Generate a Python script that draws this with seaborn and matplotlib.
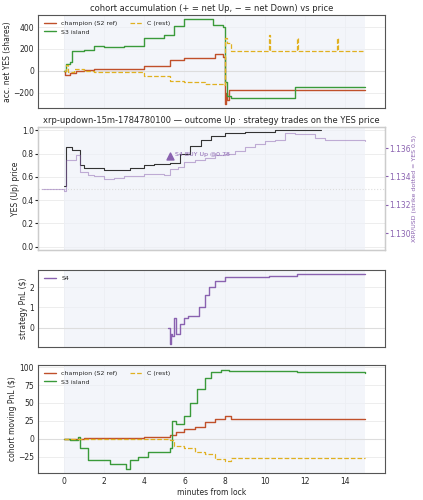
import matplotlib
matplotlib.use("Agg")
import matplotlib.pyplot as plt
import seaborn as sns
import numpy as np

sns.set_style("whitegrid")
plt.rcParams['font.family'] = ['DejaVu Sans']

# panel 1: accumulation
champ_t = [0, 0.05, 0.3, 0.6, 1.0, 1.4, 1.5, 2.5, 4.0, 5.3, 6.0, 7.5, 7.9, 8.0, 8.05, 8.1, 8.2, 8.3, 15]
champ_v = [0, -40, -20, 0, 5, 10, 15, 20, 45, 100, 120, 150, 130, -300, -200, -270, -180, -180, -180]
s3_t = [0, 0.1, 0.3, 0.4, 1.0, 1.5, 2.0, 3.0, 4.0, 5.0, 5.5, 6.0, 7.0, 7.4, 7.9, 8.0, 8.1, 8.3, 11.5, 15]
s3_v = [0, 60, 80, 180, 190, 230, 220, 225, 300, 325, 410, 475, 470, 415, 400, -100, -230, -250, -150, -150]
c_t = [0, 0.1, 0.2, 0.5, 1.0, 1.5, 3.9, 4.0, 5.3, 6.0, 7.0, 7.9, 8.0, 8.1, 8.3, 10.2, 10.25, 11.6, 11.65, 13.6, 13.65, 15]
c_v = [0, 50, -10, 20, 0, -10, -15, -50, -90, -100, -120, -130, 300, 250, 180, 330, 180, 300, 180, 300, 180, 180]

# panel 2: YES price and XRP
yes_t = [0, 0.1, 0.4, 0.8, 1.0, 2.0, 3.0, 3.3, 4.0, 4.5, 5.3, 5.8, 6.3, 6.8, 7.3, 8.0, 9.0, 10.5, 12.0, 12.8]
yes_v = [0.52, 0.86, 0.83, 0.70, 0.68, 0.66, 0.66, 0.68, 0.70, 0.71, 0.72, 0.80, 0.87, 0.92, 0.95, 0.98, 0.99, 1.00, 1.00, 1.00]
xrp_t = [-1.1, 0, 0.1, 0.6, 0.8, 1.2, 1.5, 2.0, 2.5, 3.0, 4.0, 5.0, 5.3, 5.7, 6.0, 6.5, 7.0, 7.5, 8.0, 8.5, 9.0, 9.5, 10.0, 10.5, 11.0, 11.5, 12.0, 12.5, 13.0, 14.0, 15.0]
xrp_v = [1.1331, 1.1330, 1.1352, 1.1355, 1.1343, 1.1341, 1.1340, 1.1338, 1.1339, 1.1340, 1.1342, 1.1341, 1.1345, 1.1347, 1.1350, 1.1352, 1.1353, 1.1355, 1.1356, 1.1358, 1.1361, 1.1363, 1.1365, 1.1366, 1.1371, 1.1370, 1.1370, 1.1367, 1.1366, 1.1366, 1.1365]
buy_t = [5.3]
buy_p = [0.78]

# panel 3: S4 pnl
s4_t = [5.2, 5.3, 5.35, 5.4, 5.5, 5.6, 5.8, 6.0, 6.1, 6.2, 6.4, 6.7, 7.0, 7.2, 7.5, 7.8, 8.0, 10.2, 11.6, 15]
s4_v = [0.0, -0.8, -0.3, -0.4, 0.5, -0.3, 0.2, 0.5, 0.5, 0.6, 0.6, 1.0, 1.6, 2.0, 2.3, 2.3, 2.5, 2.55, 2.65, 2.65]

# panel 4: cohort moving pnl
mc_t = [0, 1, 3, 4, 5.0, 5.3, 5.6, 6.0, 6.5, 7.0, 7.5, 8.0, 8.3, 15]
mc_v = [0, 1, 1, 2, 3, 5, 10, 13, 17, 23, 28, 31, 28, 28]
ms_t = [0, 0.3, 0.7, 0.8, 1.2, 1.7, 2.3, 3.1, 3.3, 3.7, 4.2, 5.3, 5.4, 5.6, 6.0, 6.3, 6.6, 7.0, 7.3, 7.8, 8.2, 11.6, 15]
ms_v = [0, -2, 3, -13, -30, -30, -36, -42, -30, -25, -18, -13, 25, 20, 32, 50, 70, 85, 93, 96, 95, 93, 92]
mr_t = [0, 1, 3, 5.3, 5.5, 6.0, 6.5, 7.0, 7.5, 8.0, 8.3, 15]
mr_v = [0, -1, -1, -2, -10, -13, -18, -22, -28, -31, -27, -27]

RED, GRN, YEL, PUR = "#c0502a", "#3a9a3a", "#e0b020", "#8a62b0"

fig = plt.figure(figsize=(4.23, 5.0), dpi=100)
L, W = 0.09, 0.82
ax1 = fig.add_axes([L, 0.784, W, 0.186])
ax2 = fig.add_axes([L, 0.50, W, 0.246])
ax3 = fig.add_axes([L, 0.306, W, 0.154])
ax4 = fig.add_axes([L, 0.054, W, 0.216])

for ax in (ax1, ax2, ax3, ax4):
    ax.axvspan(0, 15, color="#eef1f8", alpha=0.7, lw=0)
    ax.set_xlim(-1.28, 15.97)
    ax.set_xticks([0, 2, 4, 6, 8, 10, 12, 14])
    ax.tick_params(labelsize=5.5, length=2, pad=1)
    ax.grid(color="#e6e6e6", lw=0.5)
    for s in ax.spines.values():
        s.set_color("#555555")
    ax.axhline(0 if ax is not ax2 else 0.5, color="#dddddd", lw=0.8, ls=(":" if ax is ax2 else "-"))
for ax in (ax1, ax2, ax3):
    ax.set_xticklabels([])

ax1.step(champ_t, champ_v, where="post", color=RED, lw=1, label="champion (S2 ref)")
ax1.step(s3_t, s3_v, where="post", color=GRN, lw=1, label="S3 island")
ax1.step(c_t, c_v, where="post", color=YEL, lw=0.9, ls="--", label="C (rest)")
ax1.set_ylim(-340, 510)
ax1.set_ylabel("acc. net YES (shares)", fontsize=5.5, labelpad=1)
ax1.set_title("cohort accumulation (+ = net Up, − = net Down) vs price", fontsize=6, pad=3)
ax1.legend(fontsize=4.5, ncol=2, loc="upper left", frameon=False)

ax2.step(yes_t, yes_v, where="post", color="#333333", lw=0.8)
ax2.scatter(buy_t, buy_p, marker="^", color=PUR, s=25, zorder=5)
ax2.annotate("S4 BUY Up @0.78", (buy_t[0], buy_p[0]), xytext=(3, 1), textcoords="offset points",
             fontsize=4.5, color=PUR, va="center")
ax2.set_ylim(-0.03, 1.03)
ax2.set_ylabel("YES (Up) price", fontsize=5.5, labelpad=1)
ax2.set_title("xrp-updown-15m-1784780100 — outcome Up · strategy trades on the YES price", fontsize=6, pad=3)
tw = ax2.twinx()
tw.plot(xrp_t, xrp_v, color=PUR, alpha=0.5, lw=0.8, drawstyle="steps-post")
tw.set_ylim(1.1288, 1.1375)
tw.set_yticks([1.130, 1.132, 1.134, 1.136])
tw.tick_params(labelsize=5.5, colors=PUR, length=2, pad=1)
tw.set_ylabel("XRP/USD (strike dotted = YES 0.5)", fontsize=4.5, color=PUR, labelpad=1)
tw.grid(False)

ax3.step(s4_t, s4_v, where="post", color=PUR, lw=1, label="S4")
ax3.set_ylim(-0.95, 2.85)
ax3.set_yticks([0, 1, 2])
ax3.set_ylabel("strategy PnL ($)", fontsize=5.5, labelpad=1)
ax3.legend(fontsize=4.5, loc="upper left", frameon=False)

ax4.step(mc_t, mc_v, where="post", color=RED, lw=1, label="champion (S2 ref)")
ax4.step(ms_t, ms_v, where="post", color=GRN, lw=1, label="S3 island")
ax4.step(mr_t, mr_v, where="post", color=YEL, lw=0.9, ls="--", label="C (rest)")
ax4.set_ylim(-48, 103)
ax4.set_yticks([-25, 0, 25, 50, 75, 100])
ax4.set_ylabel("cohort moving PnL ($)", fontsize=5.5, labelpad=1)
ax4.set_xlabel("minutes from lock", fontsize=5.5, labelpad=1)
ax4.legend(fontsize=4.5, ncol=2, loc="upper left", frameon=False)

fig.savefig("out.png", dpi=100)
